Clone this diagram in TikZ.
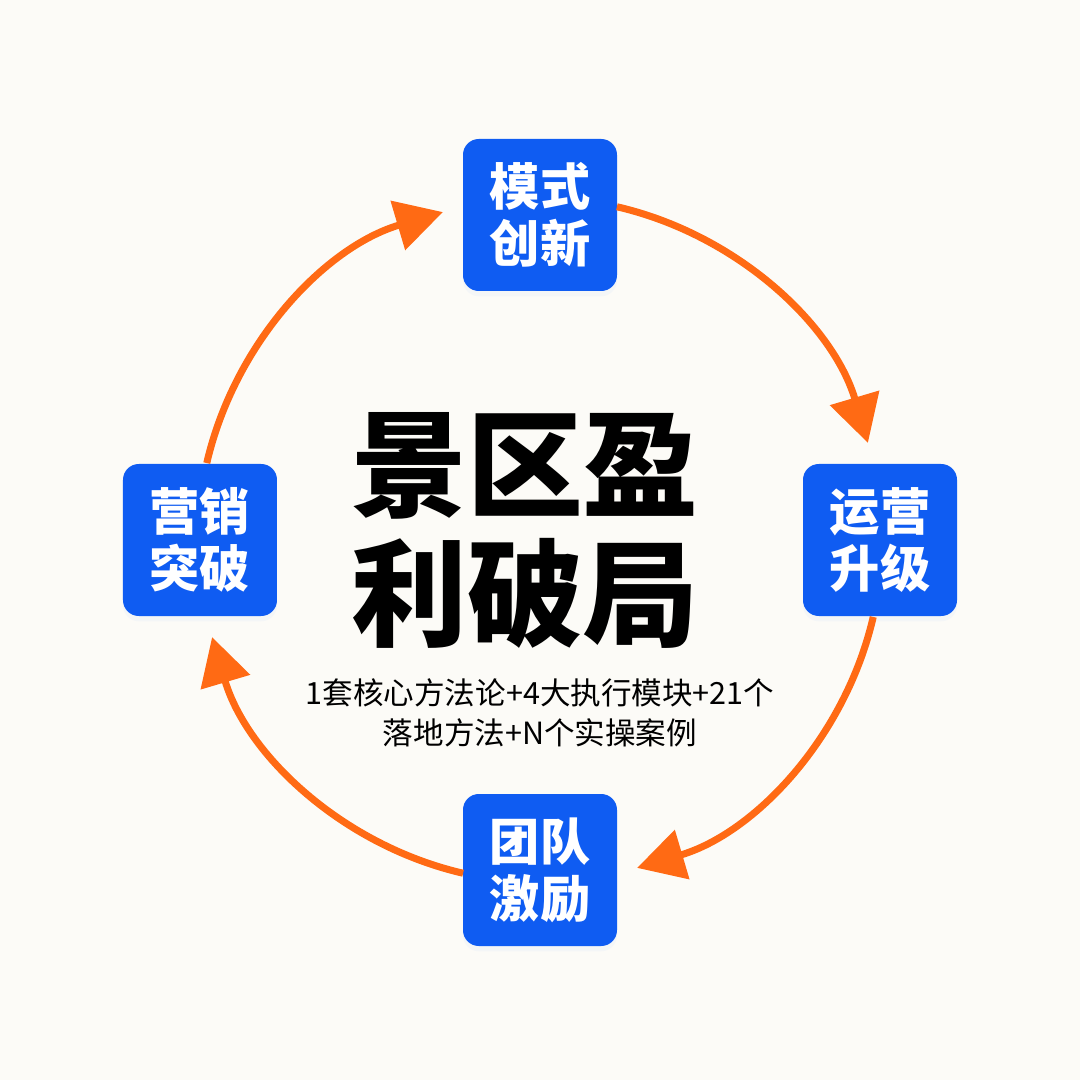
\documentclass[tikz,border=0pt]{standalone}
\usepackage{fontspec}
\setmainfont{Noto Sans CJK SC}[BoldFont={Noto Sans CJK SC Bold}]
\newfontfamily\heavyfont{Noto Sans CJK SC Black}
\definecolor{kbblue}{HTML}{0F5CF2}
\definecolor{kborange}{HTML}{FF6A14}
\definecolor{kbpaper}{HTML}{FCFBF7}
\usetikzlibrary{arrows.meta,positioning,shadows}

\begin{document}
\begin{tikzpicture}[
  stepbox/.style={fill=kbblue,rounded corners=4.5pt,minimum width=1.54cm,minimum height=1.52cm,
    inner sep=0pt,text=white,align=center,font=\heavyfont\fontsize{14.3}{16.2}\selectfont,
    drop shadow={shadow xshift=0pt,shadow yshift=-1.5pt,opacity=0.08,fill=kbblue!40}},
  flow/.style={kborange,line width=2pt,-{Triangle[length=0.47cm,width=0.5cm]}}]
  \fill[kbpaper] (-5.4,-5.4) rectangle (5.4,5.4);
  % four steps round the circle
  \node[stepbox] (mode) at (0,3.25) {模式\\创新};
  \node[stepbox] (ops)  at (3.4,0)  {运营\\升级};
  \node[stepbox] (team) at (0,-3.3) {团队\\激励};
  \node[stepbox] (mkt)  at (-3.4,0) {营销\\突破};
  % centre
  \node[align=center,font=\heavyfont\fontsize{33}{36.7}\selectfont] (title) at (-0.15,0.1) {景区盈\\利破局};
  \node[align=center,font=\fontsize{8.7}{11.4}\selectfont] (sub) at (0,-1.73)
    {1套核心方法论+4大执行模块+21个\\落地方法+N个实操案例};
  % clockwise arcs
  \coordinate (mode-out) at (77:3.42);
  \coordinate (ops-out)  at (-13:3.42);
  \coordinate (team-out) at (-103:3.42);
  \coordinate (mkt-out)  at (167:3.42);
  \draw[flow] (mode-out) arc[start angle=77,end angle=16.5,radius=3.42];
  \draw[flow] (ops-out) arc[start angle=-13,end angle=-73.5,radius=3.42];
  \draw[flow] (team-out) arc[start angle=-103,end angle=-163.5,radius=3.42];
  \draw[flow] (mkt-out) arc[start angle=167,end angle=106.5,radius=3.42];
\end{tikzpicture}
\end{document}
